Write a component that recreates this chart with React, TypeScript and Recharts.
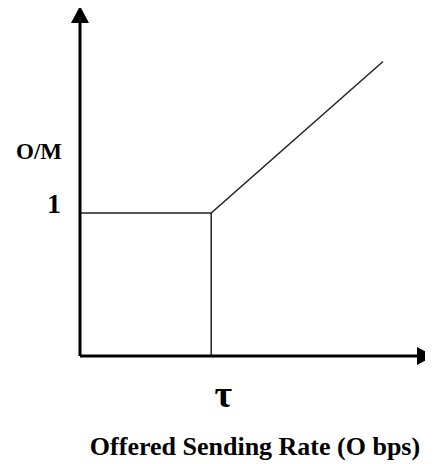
import { LineChart, Line, XAxis, YAxis, ReferenceDot, Label } from 'recharts';

// piecewise curve: flat at 1 until tau, then rising
const curveX = [0, 1, 2.31];
const curveY = [1, 1, 2.06];
const dropX = [1, 1];
const dropY = [0, 1];
const xTicks = [1];
const xTickLabels = ['τ'];
const yTicks = [1];
const xMax = 2.63;
const yMax = 2.385;

const curve = curveX.map((x, i) => ({ x, y: curveY[i] }));
const drop = dropX.map((x, i) => ({ x, y: dropY[i] }));

const font = '"Liberation Serif", "Times New Roman", serif';

const UpArrow = ({ cx, cy }: any) => (
  <path d={`M${cx},${cy - 9} L${cx - 9},${cy + 8} L${cx + 9},${cy + 8} Z`} fill="#000" />
);
const RightArrow = ({ cx, cy }: any) => (
  <path d={`M${cx + 9},${cy} L${cx - 8},${cy - 9} L${cx - 8},${cy + 9} Z`} fill="#000" />
);

const XTick = ({ x, y, payload }: any) => (
  <text x={x + 12} y={y + 45} textAnchor="middle" fontFamily={font} fontWeight="bold" fontSize={38} fill="#000">
    {xTickLabels[xTicks.indexOf(payload.value)]}
  </text>
);

const YTick = ({ x, y, payload }: any) => (
  <text x={x - 20} y={y} textAnchor="middle" fontFamily={font} fontWeight="bold" fontSize={28} fill="#000">
    {payload.value}
  </text>
);

export default function App() {
  return (
    <div style={{ background: '#fff' }}>
      <LineChart width={425} height={456} margin={{ top: 7, right: 8, bottom: 107, left: 71 }}>
        <XAxis
          type="number"
          dataKey="x"
          domain={[0, xMax]}
          allowDataOverflow
          ticks={xTicks}
          tickLine={false}
          tickMargin={0}
          height={1}
          axisLine={{ stroke: '#000', strokeWidth: 3 }}
          tick={XTick}
        >
          <Label
            content={({ viewBox }: any) => (
              <text
                x={viewBox.x + 175}
                y={viewBox.y + 99}
                textAnchor="middle"
                fontFamily={font}
                fontWeight="bold"
                fontSize={26}
                fill="#000"
              >
                Offered Sending Rate (O bps)
              </text>
            )}
          />
        </XAxis>
        <YAxis
          type="number"
          dataKey="y"
          domain={[0, yMax]}
          allowDataOverflow
          ticks={yTicks}
          tickLine={false}
          tickMargin={0}
          width={1}
          axisLine={{ stroke: '#000', strokeWidth: 3 }}
          tick={YTick}
        >
          <Label
            content={({ viewBox }: any) => (
              <text
                x={viewBox.x - 40}
                y={viewBox.y + 144}
                textAnchor="middle"
                fontFamily={font}
                fontWeight="bold"
                fontSize={23}
                fill="#000"
              >
                O/M
              </text>
            )}
          />
        </YAxis>
        <Line data={curve} dataKey="y" stroke="#222" strokeWidth={1.5} dot={false} isAnimationActive={false} />
        <Line data={drop} dataKey="y" stroke="#222" strokeWidth={1.5} dot={false} isAnimationActive={false} />
        <ReferenceDot x={0} y={yMax} ifOverflow="visible" shape={UpArrow} />
        <ReferenceDot x={xMax} y={0} ifOverflow="visible" shape={RightArrow} />
      </LineChart>
    </div>
  );
}
